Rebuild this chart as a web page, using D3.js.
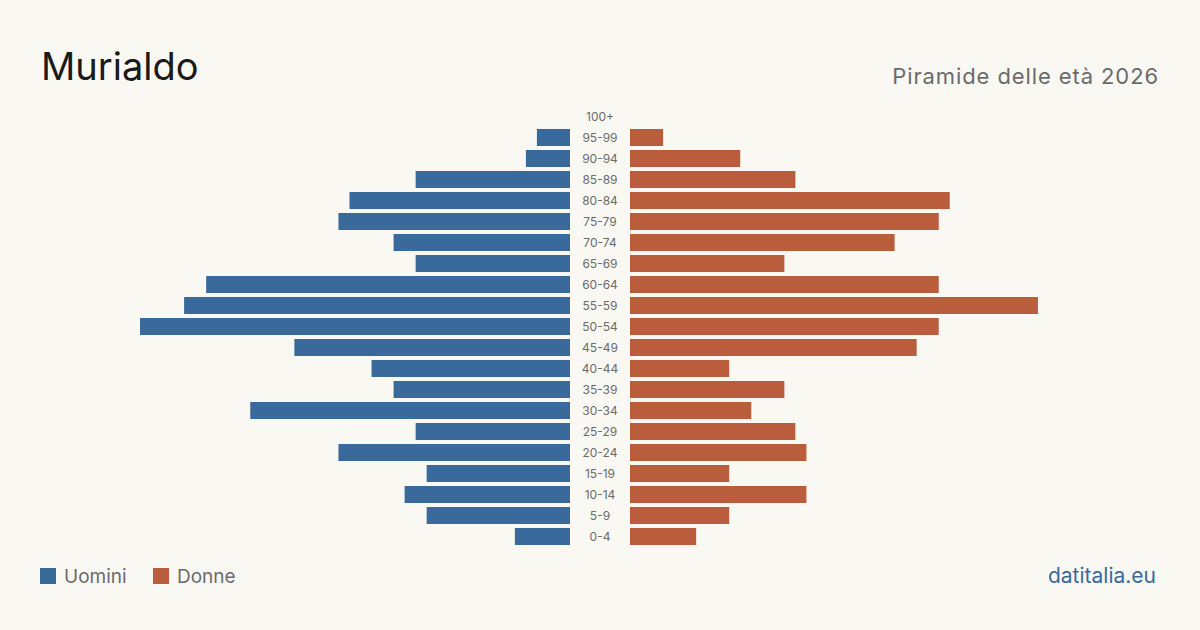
<!DOCTYPE html>
<html>
<head>
<meta charset="utf-8">
<script src="https://cdn.jsdelivr.net/npm/d3@7"></script>
<style>
  body { margin: 0; background: #f9f8f3; }
  svg { display: block; font-family: Inter, "Noto Sans", sans-serif; }
</style>
</head>
<body>
<div id="chart"></div>
<script>
/* DATA */
const ageGroups = ["100+", "95-99", "90-94", "85-89", "80-84", "75-79", "70-74", "65-69", "60-64",
  "55-59", "50-54", "45-49", "40-44", "35-39", "30-34", "25-29", "20-24", "15-19", "10-14", "5-9", "0-4"];
const men   = [0, 3, 4, 14, 20, 21, 16, 14, 33, 35, 39, 25, 18, 16, 29, 14, 21, 13, 15, 13, 5];
const women = [0, 3, 10, 15, 29, 28, 24, 14, 28, 37, 28, 26, 9, 14, 11, 15, 16, 9, 16, 9, 6];
const legendLabels = ["Uomini", "Donne"];

/* CONSTANTS */
const width = 1200, height = 630;
const colors = ["#3a6a9b", "#b95d3c"];
const centerLeft = 570, centerRight = 630;

const svg = d3.select("#chart").append("svg")
  .attr("width", width)
  .attr("height", height);

svg.append("rect").attr("width", width).attr("height", height).attr("fill", "#f9f8f3");

// titles
svg.append("text")
  .attr("x", 41).attr("y", 80)
  .attr("font-size", 38)
  .attr("fill", "#1a1a1a")
  .text("Murialdo");

svg.append("text")
  .attr("x", 1159).attr("y", 84)
  .attr("text-anchor", "end")
  .attr("font-size", 22)
  .attr("letter-spacing", 0.9)
  .attr("fill", "#6b6b6b")
  .text("Piramide delle età 2026");

// scales
const y = d3.scaleBand()
  .domain(ageGroups)
  .range([106, 547])
  .paddingInner(0.19)
  .paddingOuter(0.095);

const x = d3.scaleLinear()
  .domain([0, 39])
  .range([0, 430]);

const rows = ageGroups.map((g, i) => ({ group: g, m: men[i], f: women[i] }));

svg.selectAll("rect.men")
  .data(rows)
  .join("rect")
  .attr("class", "men")
  .attr("x", d => centerLeft - x(d.m))
  .attr("y", d => y(d.group))
  .attr("width", d => x(d.m))
  .attr("height", y.bandwidth())
  .attr("fill", colors[0]);

svg.selectAll("rect.women")
  .data(rows)
  .join("rect")
  .attr("class", "women")
  .attr("x", centerRight)
  .attr("y", d => y(d.group))
  .attr("width", d => x(d.f))
  .attr("height", y.bandwidth())
  .attr("fill", colors[1]);

svg.selectAll("text.age")
  .data(rows)
  .join("text")
  .attr("class", "age")
  .attr("x", (centerLeft + centerRight) / 2)
  .attr("y", d => y(d.group) + y.bandwidth() / 2)
  .attr("dy", "0.35em")
  .attr("text-anchor", "middle")
  .attr("font-size", 12)
  .attr("fill", "#6b6b6b")
  .text(d => d.group);

// legend
const legend = svg.selectAll("g.legend")
  .data(legendLabels)
  .join("g")
  .attr("class", "legend")
  .attr("transform", (d, i) => `translate(${40 + i * 113}, 568)`);

legend.append("rect")
  .attr("width", 16).attr("height", 16)
  .attr("fill", (d, i) => colors[i]);

legend.append("text")
  .attr("x", 24).attr("y", 8)
  .attr("dy", "0.35em")
  .attr("font-size", 19)
  .attr("fill", "#6b6b6b")
  .text(d => d);

svg.append("text")
  .attr("x", 1156).attr("y", 583)
  .attr("text-anchor", "end")
  .attr("font-size", 21)
  .attr("fill", "#3a6a9b")
  .text("datitalia.eu");
</script>
</body>
</html>
